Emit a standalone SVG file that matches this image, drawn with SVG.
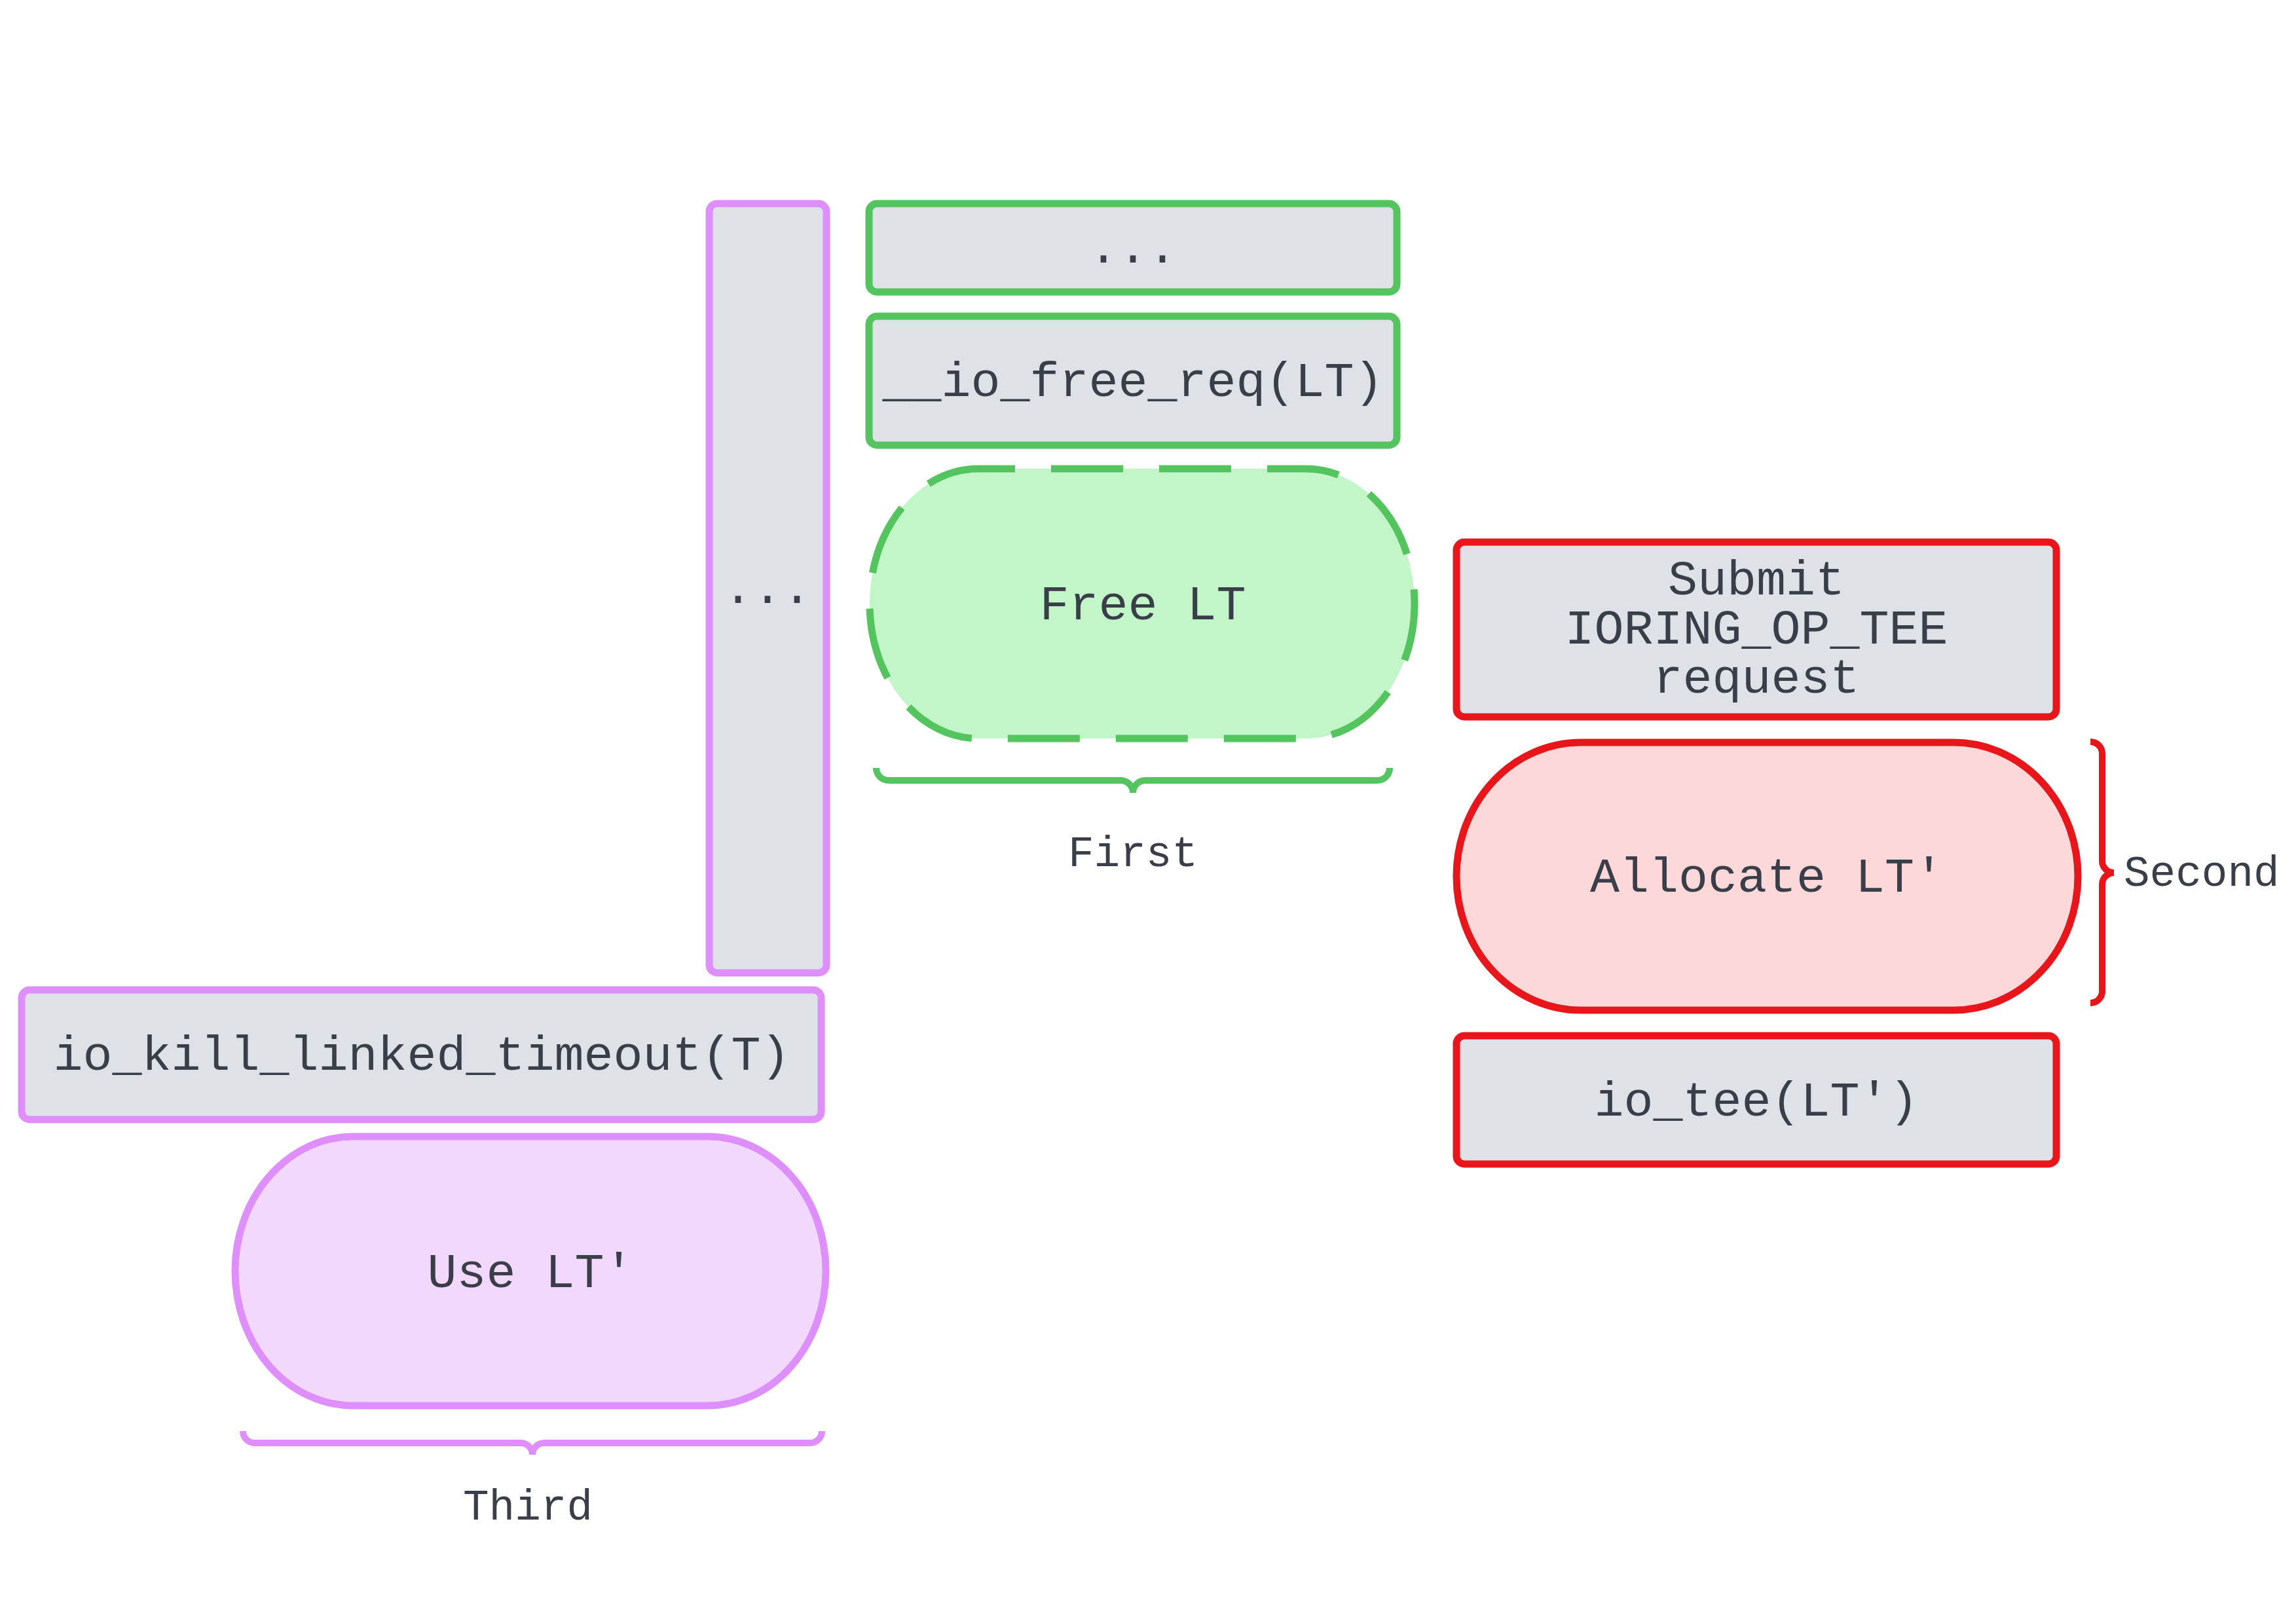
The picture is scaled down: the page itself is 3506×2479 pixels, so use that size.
<svg xmlns="http://www.w3.org/2000/svg" width="3506" height="2479" viewBox="0 0 3506 2479">
<style>
  text { font-family: "Liberation Mono", "DejaVu Sans Mono", monospace; fill: #393e48; text-anchor: middle; }
  .t { font-size: 75px; }
  .lbl { font-size: 66px; }
  .box { fill: #dee1e6; stroke-width: 11; }
  .g { stroke: #53c45e; }
  .r { stroke: #e8161a; }
  .p { stroke: #df8efd; }
  .brace { fill: none; stroke-width: 10; stroke-linecap: butt; }
</style>
<rect width="3506" height="2479" fill="#ffffff"/>

<g id="node-dots-purple">
  <rect class="box p" x="1083" y="311" width="179" height="1175" rx="12"/>
  <text class="t" x="1172" y="921">...</text>
</g>
<g id="node-dots-green">
  <rect class="box g" x="1327" y="311" width="806" height="135" rx="12"/>
  <text class="t" x="1730" y="401">...</text>
</g>
<g id="node-io-free-req">
  <rect class="box g" x="1327" y="483" width="806" height="197" rx="12"/>
  <text class="t" x="1730" y="605">__io_free_req(LT)</text>
</g>
<g id="node-free-lt">
  <rect x="1328" y="716" width="832" height="412" rx="166" ry="206" fill="#c2f5c7" stroke="#53c45e" stroke-width="11" stroke-dasharray="110 55" stroke-dashoffset="54"/>
  <text class="t" x="1745" y="946">Free LT</text>
</g>
<g id="node-submit">
  <rect class="box r" x="2224" y="828" width="916" height="267" rx="12"/>
  <text class="t" x="2682" y="908">Submit</text>
  <text class="t" x="2682" y="983">IORING_OP_TEE</text>
  <text class="t" x="2682" y="1058">request</text>
</g>
<g id="node-allocate">
  <rect x="2224" y="1134" width="949" height="409" rx="190" ry="204.5" fill="#fdd8d9" stroke="#e8161a" stroke-width="11"/>
  <text class="t" x="2698" y="1362">Allocate LT'</text>
</g>
<g id="node-io-tee">
  <rect class="box r" x="2224" y="1582" width="916" height="196" rx="12"/>
  <text class="t" x="2682" y="1704">io_tee(LT')</text>
</g>
<g id="node-io-kill">
  <rect class="box p" x="33" y="1512" width="1221" height="198" rx="12"/>
  <text class="t" x="644" y="1634">io_kill_linked_timeout(T)</text>
</g>
<g id="node-use-lt">
  <rect x="359" y="1736" width="902" height="411" rx="180" ry="205.5" fill="#f2d8fd" stroke="#df8efd" stroke-width="11"/>
  <text class="t" x="810" y="1966">Use LT'</text>
</g>

<g id="connectors">
  <path class="brace g" d="M 1338 1173 a 19 19 0 0 0 19 19 H 1711 a 19 19 0 0 1 19 19 a 19 19 0 0 1 19 -19 H 2103 a 19 19 0 0 0 19 -19"/>
  <path class="brace r" d="M 3192 1133 a 18 18 0 0 1 18 18 V 1315 a 18 18 0 0 0 18 18 a 18 18 0 0 0 -18 18 V 1514 a 18 18 0 0 1 -18 18"/>
  <path class="brace p" d="M 371 2186 a 18 18 0 0 0 18 18 H 795 a 18 18 0 0 1 18 18 a 18 18 0 0 1 18 -18 H 1237 a 18 18 0 0 0 18 -18"/>
</g>

<g id="labels">
  <text class="lbl" x="1730" y="1323">First</text>
  <text class="lbl" x="3243" y="1353" style="text-anchor:start">Second</text>
  <text class="lbl" x="806" y="2321">Third</text>
</g>
</svg>
